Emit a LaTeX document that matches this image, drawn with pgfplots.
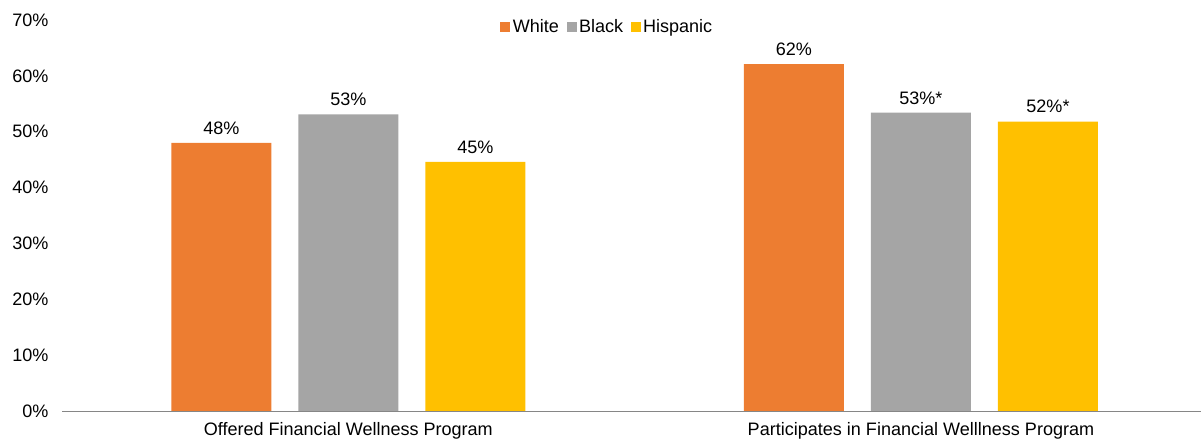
\documentclass[border=0pt]{standalone}
\usepackage{pgfplots}
\pgfplotsset{compat=1.18}
\usepackage{fontspec}
\setmainfont{Liberation Sans}
\definecolor{cW}{HTML}{ED7D31}
\definecolor{cB}{HTML}{A5A5A5}
\definecolor{cH}{HTML}{FFC000}
\definecolor{axgray}{RGB}{134,134,134}
\newcommand{\fs}{\fontsize{18.1}{21}\selectfont}
\begin{document}
\begin{tikzpicture}
\useasboundingbox (0,0) rectangle (1201bp,441bp);
\begin{axis}[
  at={(62bp,30bp)}, anchor=south west,
  scale only axis, width=1139bp, height=391bp,
  xmin=-0.5, xmax=1.489, ymin=0, ymax=70,
  axis lines*=left,
  y axis line style={draw=none},
  x axis line style={draw=axgray, line width=1bp, -},
  ybar, bar width=0.1747,
  ytick={0,10,...,70},
  yticklabel={\pgfmathprintnumber{\tick}\%},
  xtick={0,1},
  xticklabels={Offered Financial Wellness Program, Participates in Financial Welllness Program},
  major tick length=0pt, tick style={draw=none},
  tick label style={font=\fs, text=black},
  yticklabel style={xshift=-10bp},
  xticklabel style={yshift=-8bp},
  /pgf/number format/assume math mode=true,
  nodes near coords, point meta=explicit symbolic,
  nodes near coords style={font=\fs, text=black, yshift=5bp},
  legend columns=-1,
  legend style={at={(0.479,0.982)}, anchor=center, draw=none, fill=none, font=\fs,
    nodes={inner sep=2.5bp},
    /tikz/every even column/.append style={column sep=5bp}},
  legend image code/.code={\fill[#1] (0bp,-5bp) rectangle (10bp,5bp);},
]
\addplot[fill=cW, draw=none, bar shift=-0.2218] coordinates {(0,48.0) [48\%] (1,62.1) [62\%]};
\addplot[fill=cB, draw=none, bar shift=0] coordinates {(0,53.1) [53\%] (1,53.4) [53\%*]};
\addplot[fill=cH, draw=none, bar shift=0.2218] coordinates {(0,44.6) [45\%] (1,51.8) [52\%*]};
\legend{White, Black, Hispanic}
\end{axis}
\end{tikzpicture}
\end{document}
